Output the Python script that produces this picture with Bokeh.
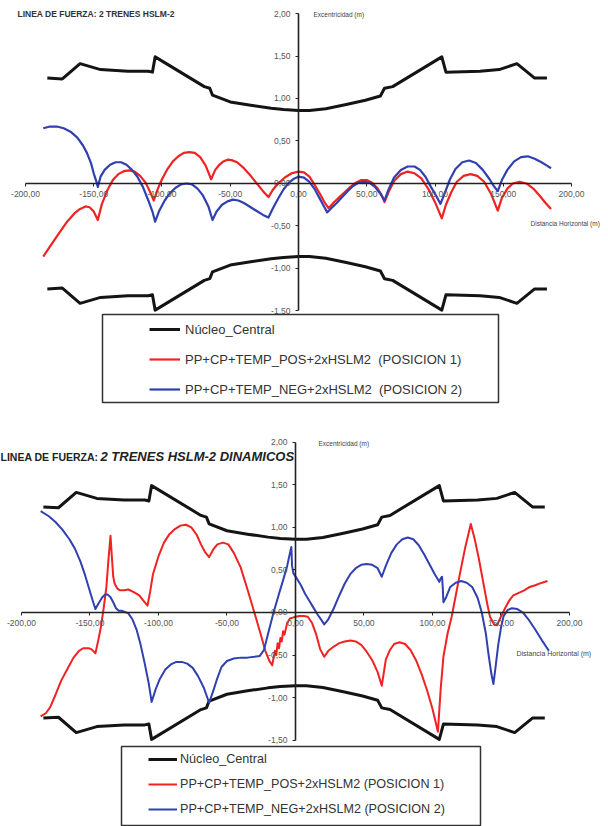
from bokeh.plotting import figure
from bokeh.models import Range1d, FixedTicker, Legend, LegendItem, BoxAnnotation, Label
from bokeh.layouts import column
from bokeh.embed import file_html
from bokeh.resources import INLINE

# ---------------- data ----------------
x_ticks = [-200, -150, -100, -50, 0, 50, 100, 150, 200]
x_tick_labels = ["-200,00", "-150,00", "-100,00", "-50,00", "0,00", "50,00", "100,00", "150,00", "200,00"]
y_ticks = [-1.5, -1.0, -0.5, 0.0, 0.5, 1.0, 1.5, 2.0]
y_tick_labels = ["-1,50", "-1,00", "-0,50", "0,00", "0,50", "1,00", "1,50", "2,00"]

title_top = "LINEA DE FUERZA: 2 TRENES HSLM-2"
title_bot_a = "LINEA DE FUERZA:"
title_bot_b = "2 TRENES HSLM-2 DINAMICOS"
y_title = "Excentricidad (m)"
x_title = "Distancia Horizontal (m)"
series_names = ["Núcleo_Central",
                "PP+CP+TEMP_POS+2xHSLM2  (POSICION 1)",
                "PP+CP+TEMP_NEG+2xHSLM2  (POSICION 2)"]

# Núcleo central (upper / lower limits)
nucleo_x = [-184, -173, -160, -145, -125, -110, -107, -105, -69, -65, -63, -50, -35, -20, -11, 0, 8,
            20, 35, 49, 60, 63, 69, 105, 108, 133, 147, 160, 173, 182]
nucleo_sup = [1.24, 1.23, 1.41, 1.34, 1.32, 1.32, 1.31, 1.49, 1.14, 1.12, 1.04, 0.96, 0.92, 0.885, 0.87, 0.86, 0.86,
              0.88, 0.93, 0.98, 1.03, 1.12, 1.14, 1.49, 1.31, 1.32, 1.34, 1.41, 1.24, 1.24]
nucleo_inf = [-1.24, -1.23, -1.41, -1.34, -1.32, -1.32, -1.31, -1.49, -1.14, -1.12, -1.04, -0.96, -0.92, -0.885, -0.87, -0.86, -0.86,
              -0.88, -0.93, -0.98, -1.03, -1.12, -1.14, -1.49, -1.31, -1.32, -1.34, -1.41, -1.24, -1.24]

# Chart 1 (static) - posicion 1
s1_pos_x = [-187, -182, -176, -170, -164, -160, -156, -153, -150, -147,
            -144, -140, -136, -132, -128, -124, -120, -116, -112, -109, -106,
            -103, -100, -96, -92, -88, -84, -80, -76, -72, -68, -64,
            -61, -58, -55, -52, -49, -45, -40, -35, -30, -26, -22,
            -19, -15, -10, -5, 0, 4, 8, 12, 16, 19, 22,
            26, 30, 34, 38, 42, 46, 50, 54, 58, 61, 63,
            66, 70, 75, 80, 85, 90, 95, 100, 105,
            108, 112, 116, 121, 126, 131, 136, 141, 146,
            149, 153, 157, 162, 167, 172, 177, 181, 185]
s1_pos_y = [-0.86, -0.74, -0.60, -0.46, -0.35, -0.30, -0.27, -0.28, -0.33, -0.43,
            -0.24, -0.08, 0.04, 0.11, 0.145, 0.155, 0.14, 0.09, 0.01, -0.09, -0.20,
            -0.06, 0.05, 0.17, 0.26, 0.32, 0.36, 0.37, 0.36, 0.31, 0.21, 0.05,
            0.16, 0.22, 0.26, 0.28, 0.275, 0.25, 0.18, 0.09, -0.01, -0.09, -0.16,
            -0.08, 0.00, 0.07, 0.12, 0.14, 0.13, 0.08, -0.02, -0.13, -0.22, -0.29,
            -0.22, -0.16, -0.10, -0.04, 0.01, 0.04, 0.04, 0.01, -0.06, -0.14, -0.22,
            -0.10, 0.03, 0.11, 0.14, 0.12, 0.06, -0.06, -0.22, -0.41,
            -0.25, -0.10, 0.02, 0.09, 0.11, 0.09, 0.02, -0.12, -0.32,
            -0.17, -0.06, 0.00, 0.02, 0.00, -0.06, -0.15, -0.23, -0.30]

# Chart 1 (static) - posicion 2
s1_neg_x = [-187, -182, -177, -172, -167, -162, -158, -155, -152, -150, -148, -147,
            -145, -142, -138, -134, -130, -126, -122, -118, -114, -110, -107, -105,
            -102, -98, -94, -90, -86, -82, -78, -74, -70, -66, -63,
            -60, -56, -52, -48, -44, -40, -35, -30, -26, -22,
            -19, -15, -11, -7, -3, 0, 4, 8, 12, 16, 19, 21,
            24, 28, 32, 36, 40, 44, 48, 52, 56, 60, 63,
            66, 70, 75, 80, 85, 89, 93, 97, 101, 104,
            107, 111, 115, 120, 125, 130, 135, 140, 143, 146,
            149, 153, 158, 163, 168, 173, 178, 182, 185]
s1_neg_y = [0.65, 0.67, 0.67, 0.65, 0.61, 0.54, 0.45, 0.36, 0.24, 0.12, 0.02, -0.04,
            0.08, 0.16, 0.22, 0.25, 0.25, 0.22, 0.16, 0.08, -0.04, -0.20, -0.33, -0.45,
            -0.32, -0.20, -0.11, -0.05, -0.01, 0.00, -0.01, -0.06, -0.14, -0.27, -0.43,
            -0.33, -0.25, -0.21, -0.19, -0.20, -0.23, -0.28, -0.33, -0.37, -0.40,
            -0.30, -0.18, -0.07, 0.01, 0.06, 0.08, 0.07, 0.02, -0.07, -0.19, -0.28, -0.34,
            -0.29, -0.23, -0.16, -0.09, -0.03, 0.01, 0.02, 0.01, -0.04, -0.12, -0.20,
            -0.07, 0.07, 0.16, 0.20, 0.20, 0.16, 0.08, -0.04, -0.15, -0.24,
            -0.12, 0.05, 0.17, 0.25, 0.27, 0.24, 0.16, 0.05, -0.03, -0.09,
            0.04, 0.16, 0.26, 0.31, 0.32, 0.29, 0.25, 0.21, 0.18]

# Chart 2 (dynamic) - posicion 1
s2_pos_x = [-186, -182, -179, -175, -171, -166, -162, -158, -155, -151, -149, -146,
            -144, -142, -140, -138, -136.5, -135, -134, -133, -132, -130, -128, -125, -122, -118, -114, -111, -108,
            -106, -104, -100, -96, -92, -88, -84, -80, -76, -72, -69, -66, -63,
            -60, -57, -53, -49, -45, -40, -35, -30, -26, -22, -19, -17,
            -15, -14, -13, -12, -11, -10, -9, -8, -6, -4, -2, 0, 3, 6, 9,
            12, 15, 18, 21, 24, 28, 32, 36, 40, 44, 48, 52, 56, 60, 63,
            66, 69, 72, 76, 80, 84, 88, 92, 96, 100, 104,
            106, 108, 111, 114, 117, 120, 124, 128, 131, 134, 137, 140, 142, 145, 147,
            150, 153, 156, 159, 163, 167, 171, 175, 180, 184]
s2_pos_y = [-1.22, -1.18, -1.11, -0.96, -0.80, -0.65, -0.53, -0.45, -0.42, -0.42, -0.43, -0.48,
            -0.33, -0.17, 0.05, 0.30, 0.62, 0.90, 0.65, 0.42, 0.34, 0.28, 0.26, 0.26, 0.27, 0.24, 0.20, 0.14, 0.08,
            0.25, 0.45, 0.66, 0.82, 0.92, 0.98, 1.02, 1.03, 1.00, 0.91, 0.80, 0.71, 0.65,
            0.74, 0.80, 0.82, 0.80, 0.70, 0.53, 0.27, 0.00, -0.22, -0.45, -0.57, -0.62,
            -0.45, -0.50, -0.36, -0.42, -0.30, -0.34, -0.22, -0.26, -0.12, -0.07, -0.06, -0.05, -0.04, -0.04, -0.05,
            -0.12, -0.25, -0.43, -0.52, -0.45, -0.40, -0.36, -0.34, -0.33, -0.34, -0.38, -0.46, -0.56, -0.70, -0.86,
            -0.55, -0.44, -0.37, -0.35, -0.37, -0.44, -0.56, -0.72, -0.91, -1.13, -1.40,
            -0.90, -0.52, -0.25, -0.05, 0.20, 0.45, 0.77, 1.04, 0.85, 0.62, 0.36, 0.10, -0.05, -0.14, -0.15,
            -0.05, 0.05, 0.14, 0.20, 0.23, 0.26, 0.30, 0.32, 0.35, 0.37]

# Chart 2 (dynamic) - posicion 2
s2_neg_x = [-186, -180, -175, -170, -165, -161, -157, -154, -151, -148, -146,
            -144, -141, -139, -137, -135, -133, -131, -129, -127, -125, -122, -119, -116, -113, -110, -107, -105,
            -102, -99, -95, -91, -87, -83, -79, -75, -71, -67, -63,
            -60, -57, -54, -50, -45, -40, -35, -30, -26, -23, -20, -16, -12, -9, -6, -4, -3,
            -2.5, -1.5, 1, 4, 7, 10, 13, 16, 19, 21,
            24, 28, 32, 36, 40, 44, 48, 52, 56, 60, 63,
            66, 70, 74, 78, 82, 86, 90, 94, 98, 102, 105, 106, 107, 107.5, 108,
            110, 113, 117, 121, 125, 129, 133, 136, 139, 141, 143, 144.5,
            146, 148, 150, 152, 155, 158, 162, 166, 170, 175, 180, 185]
s2_neg_y = [1.19, 1.13, 1.06, 0.97, 0.86, 0.75, 0.60, 0.46, 0.30, 0.14, 0.04,
            0.10, 0.18, 0.21, 0.21, 0.18, 0.12, 0.05, 0.02, 0.02, 0.01, -0.01, -0.08, -0.20, -0.38, -0.60, -0.84, -1.05,
            -0.90, -0.78, -0.67, -0.61, -0.58, -0.58, -0.60, -0.65, -0.75, -0.88, -1.06,
            -0.92, -0.77, -0.64, -0.57, -0.54, -0.53, -0.53, -0.52, -0.51, -0.44, -0.25, 0.00, 0.22, 0.38, 0.55, 0.70, 0.77,
            0.55, 0.46, 0.40, 0.32, 0.22, 0.14, 0.06, -0.02, -0.09, -0.14,
            -0.08, 0.05, 0.20, 0.34, 0.45, 0.52, 0.56, 0.57, 0.56, 0.52, 0.42,
            0.55, 0.70, 0.80, 0.86, 0.88, 0.86, 0.79, 0.68, 0.56, 0.44, 0.36, 0.40, 0.42, 0.30, 0.12,
            0.18, 0.30, 0.35, 0.37, 0.35, 0.30, 0.17, 0.00, -0.25, -0.50, -0.72, -0.84,
            -0.65, -0.38, -0.18, -0.04, 0.03, 0.05, 0.04, 0.00, -0.08, -0.20, -0.33, -0.45]

# ---------------- styling ----------------
FONT = "Liberation Sans"
BLACK = "#141414"
RED = "#f02222"
BLUE = "#3040b0"
W = 608


def base_fig(height, xr, yr):
    p = figure(width=W, height=height, x_range=Range1d(*xr), y_range=Range1d(*yr),
               output_backend="svg", toolbar_location=None, min_border=0)
    p.outline_line_color = None
    p.grid.visible = False
    p.background_fill_color = "white"
    for ax, bounds, ticks, labels in ((p.xaxis, (-200, 200), x_ticks, x_tick_labels),
                                      (p.yaxis, (-1.5, 2.0), y_ticks, y_tick_labels)):
        ax.fixed_location = 0
        ax.bounds = bounds
        ax.ticker = FixedTicker(ticks=ticks)
        ax.major_label_overrides = {t: l for t, l in zip(ticks, labels)}
        ax.axis_line_color = "#222222"
        ax.axis_line_width = 1.6
        ax.major_tick_line_color = "#222222"
        ax.major_tick_in = 0
        ax.major_tick_out = 3
        ax.minor_tick_line_color = None
        ax.major_label_text_font = FONT
        ax.major_label_text_font_size = "8.5px"
        ax.major_label_text_color = "#555555"
    p.xaxis.major_label_standoff = 5
    p.yaxis.major_label_standoff = 5
    return p


def mapper(xr, yr, top_px, height):
    def fx(px):
        return xr[0] + px * (xr[1] - xr[0]) / W

    def fy(py):
        return yr[1] - (py - top_px) * (yr[1] - yr[0]) / height
    return fx, fy


# ---------------- chart 1 ----------------
XR1, YR1, H1 = (-218.3, 227.1), (-2.765, 2.153), 418
p1 = base_fig(H1, XR1, YR1)
fx1, fy1 = mapper(XR1, YR1, 0, H1)

k1a = p1.line(nucleo_x, nucleo_sup, color=BLACK, line_width=3, line_join="round")
p1.line(nucleo_x, nucleo_inf, color=BLACK, line_width=3, line_join="round")
r1 = p1.line(s1_pos_x, s1_pos_y, color=RED, line_width=2.2, line_join="round")
b1 = p1.line(s1_neg_x, s1_neg_y, color=BLUE, line_width=2.2, line_join="round")

p1.add_layout(Label(x=fx1(17), y=fy1(13), text=title_top, text_font=FONT, text_font_size="8.5px",
                    text_font_style="bold", text_color="#333333", text_baseline="middle"))
p1.add_layout(Label(x=fx1(313), y=fy1(14), text=y_title, text_font=FONT, text_font_size="6.5px",
                    text_color="#444444", text_baseline="middle"))
p1.add_layout(Label(x=fx1(530), y=fy1(223), text=x_title, text_font=FONT, text_font_size="6.5px",
                    text_color="#444444", text_baseline="middle"))

p1.add_layout(BoxAnnotation(left=fx1(102), right=fx1(498), top=fy1(314), bottom=fy1(402),
                            fill_color="white", fill_alpha=1.0, line_color="#333333", line_width=1.5,
                            line_alpha=1.0))
leg1 = Legend(items=[LegendItem(label=series_names[0], renderers=[k1a]),
                     LegendItem(label=series_names[1], renderers=[r1]),
                     LegendItem(label=series_names[2], renderers=[b1])],
              location=(149, 19), padding=0, margin=0, border_line_color=None,
              background_fill_alpha=0, glyph_width=31, glyph_height=20, label_height=20,
              spacing=10, label_standoff=5, label_text_font=FONT, label_text_font_size="13px",
              label_text_color="#333333")
p1.add_layout(leg1)

# ---------------- chart 2 ----------------
XR2, YR2, H2 = (-215.3, 228.5), (-2.513, 2.278), 408
p2 = base_fig(H2, XR2, YR2)
fx2, fy2 = mapper(XR2, YR2, 418, H2)

k2a = p2.line(nucleo_x, nucleo_sup, color=BLACK, line_width=3, line_join="round")
p2.line(nucleo_x, nucleo_inf, color=BLACK, line_width=3, line_join="round")
r2 = p2.line(s2_pos_x, s2_pos_y, color=RED, line_width=2, line_join="round")
b2 = p2.line(s2_neg_x, s2_neg_y, color=BLUE, line_width=2, line_join="round")

p2.add_layout(Label(x=fx2(0), y=fy2(456), text=title_bot_a, text_font=FONT, text_font_size="10.5px",
                    text_font_style="bold", text_color="#222222", text_baseline="middle"))
p2.add_layout(Label(x=fx2(100), y=fy2(456), text=title_bot_b, text_font=FONT, text_font_size="13px",
                    text_font_style="bold italic", text_color="#222222", text_baseline="middle"))
p2.add_layout(Label(x=fx2(318), y=fy2(443), text=y_title, text_font=FONT, text_font_size="6.5px",
                    text_color="#444444", text_baseline="middle"))
p2.add_layout(Label(x=fx2(516), y=fy2(653), text=x_title, text_font=FONT, text_font_size="7px",
                    text_color="#444444", text_baseline="middle"))

p2.add_layout(BoxAnnotation(left=fx2(121), right=fx2(480), top=fy2(746), bottom=fy2(825),
                            fill_color="white", fill_alpha=1.0, line_color="#333333", line_width=1.5,
                            line_alpha=1.0))
leg2 = Legend(items=[LegendItem(label=series_names[0], renderers=[k2a]),
                     LegendItem(label=series_names[1].replace("  ", " "), renderers=[r2]),
                     LegendItem(label=series_names[2].replace("  ", " "), renderers=[b2])],
              location=(148, 7), padding=0, margin=0, border_line_color=None,
              background_fill_alpha=0, glyph_width=29, glyph_height=20, label_height=20,
              spacing=5, label_standoff=3, label_text_font=FONT, label_text_font_size="12.6px",
              label_text_color="#333333")
p2.add_layout(leg2)

layout = column(p1, p2, spacing=0)
open("out.html", "w").write(file_html(layout, INLINE))
